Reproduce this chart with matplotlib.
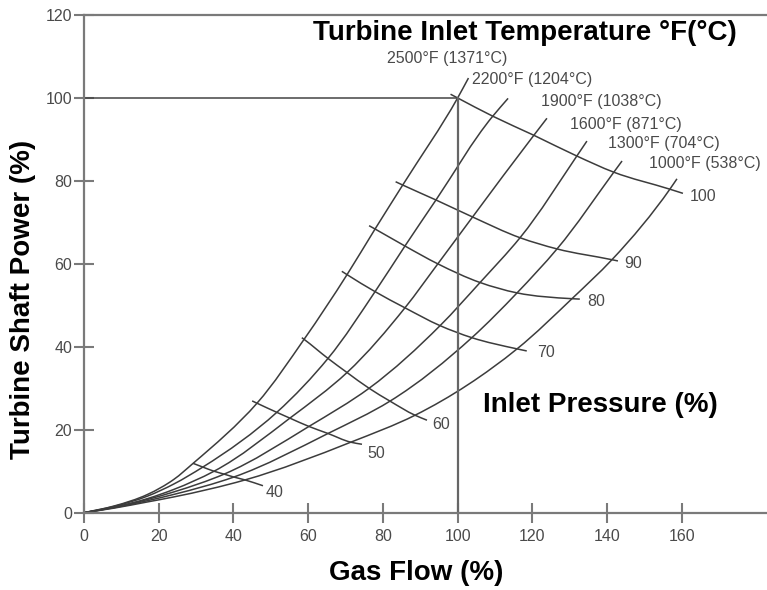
import numpy as np
import matplotlib.pyplot as plt
from matplotlib.path import Path
from matplotlib.patches import PathPatch

plt.rcParams['font.family'] = ['Liberation Sans', 'DejaVu Sans']

temps_f = [2500, 2200, 1900, 1600, 1300, 1000]
temps_c = [1371, 1204, 1038, 871, 704, 538]
pressures = [40, 50, 60, 70, 80, 90, 100]

# gas flow (%) at each crossing: rows = inlet pressure, cols = inlet temperature
flow = np.array([
    [29.2, 31.8, 34.8, 37.5, 40.1, 43.1],
    [46.3, 51.6, 55.1, 60.2, 65.3, 71.4],
    [58.9, 65.3, 70.4, 76.3, 81.9, 88.6],
    [70.4, 77.9, 85.9, 95.3, 103.8, 115.9],
    [77.9, 85.9, 94.7, 106.0, 115.9, 130.6],
    [85.3, 94.2, 104.0, 116.7, 126.6, 141.3],
    [100.0, 109.4, 120.4, 131.9, 141.8, 156.8],
])
# shaft power (%) at the same crossings
power = np.array([
    [11.9, 11.0, 10.0, 9.3, 8.6, 7.9],
    [26.4, 24.2, 22.8, 20.8, 19.1, 17.0],
    [41.8, 37.2, 33.8, 30.0, 26.9, 23.5],
    [57.4, 53.3, 49.4, 45.1, 42.2, 39.5],
    [68.4, 64.3, 60.0, 55.5, 53.0, 51.6],
    [79.0, 75.4, 71.3, 66.3, 63.6, 61.0],
    [100.0, 95.6, 91.0, 86.0, 82.1, 78.0],
])

# temperature lines below 40 % pressure, down to the origin
low_flow = [0, 8, 17, 24]
low_power = [
    [0, 1.6, 4.4, 8.0],
    [0, 1.5, 4.0, 6.9],
    [0, 1.3, 3.4, 5.6],
    [0, 1.3, 3.2, 5.0],
    [0, 1.2, 2.9, 4.4],
    [0, 1.1, 2.6, 3.8],
]
# temperature lines above 100 % pressure
top_flow = [102.9, 113.5, 123.9, 134.6, 144.0, 158.7]
top_power = [104.8, 99.9, 95.1, 89.6, 84.8, 80.5]

# pressure lines: left overhang and right end
p_start_flow = [None, 45.0, 58.3, 69.0, 76.3, 83.4, 98.1]
p_start_power = [None, 26.95, 42.2, 58.2, 69.2, 79.8, 100.9]
p_end_flow = [47.9, 74.4, 91.8, 118.5, 132.7, 142.9, 160.3]
p_end_power = [6.5, 16.5, 22.3, 39.0, 51.5, 60.7, 77.0]

line_col = '#3c3c3c'
text_col = '#4a4a4a'
axis_col = '#7a7a7a'


def smooth_path(xs, ys):
    # cubic segments through every point; the tangent at each inner point is
    # that of the parabola through it and its two neighbours
    pts = np.column_stack([xs, ys]).astype(float)
    n = len(pts)
    d = np.diff(pts, axis=0)
    h = np.hypot(d[:, 0], d[:, 1])
    u = d / h[:, None]
    tang = np.zeros_like(pts)
    tang[0], tang[-1] = u[0], u[-1]
    for i in range(1, n - 1):
        h0, h1 = h[i - 1], h[i]
        tang[i] = (h1 * u[i - 1] + h0 * u[i]) / (h0 + h1)
    tang /= np.hypot(tang[:, 0], tang[:, 1])[:, None]
    verts = [pts[0]]
    codes = [Path.MOVETO]
    for i in range(n - 1):
        verts += [pts[i] + tang[i] * h[i] / 3, pts[i + 1] - tang[i + 1] * h[i] / 3, pts[i + 1]]
        codes += [Path.CURVE4] * 3
    return Path(verts, codes)


def draw_curve(ax, xs, ys):
    ax.add_patch(PathPatch(smooth_path(xs, ys), fill=False, edgecolor=line_col,
                           lw=1.1, capstyle='butt'))


fig = plt.figure(figsize=(7.67, 5.90), dpi=100)
ax = fig.add_axes([84 / 767, 77.3 / 590, 683 / 767, 497.7 / 590])

# design point guides
x0, y0 = flow[-1, 0], power[-1, 0]
ax.plot([0, x0], [y0, y0], color='#444444', lw=1.1)
ax.plot([x0, x0], [0, y0], color='#666666', lw=1.6)

# temperature lines
temp_offsets = [(-81, 20), (-36, 19), (-6, 17), (-17, 17), (-14, 17), (-28, 15)]
for i in range(len(temps_f)):
    xs = list(low_flow) + list(flow[:, i]) + [top_flow[i]]
    ys = list(low_power[i]) + list(power[:, i]) + [top_power[i]]
    draw_curve(ax, xs, ys)
    ax.annotate(f'{temps_f[i]}°F ({temps_c[i]}°C)', (top_flow[i], top_power[i]),
                xytext=temp_offsets[i], textcoords='offset pixels',
                ha='left', va='center', fontsize=11.5, color=text_col)

# inlet pressure lines
p_offsets = [(3, -7), (5, -9), (5, -4), (10, -2), (7, -2), (6, -3), (7, -3)]
for j, p in enumerate(pressures):
    xs = list(flow[j]) + [p_end_flow[j]]
    ys = list(power[j]) + [p_end_power[j]]
    if p_start_flow[j] is not None:
        xs = [p_start_flow[j]] + xs
        ys = [p_start_power[j]] + ys
    draw_curve(ax, xs, ys)
    ax.annotate(str(p), (p_end_flow[j], p_end_power[j]),
                xytext=p_offsets[j], textcoords='offset pixels',
                ha='left', va='center', fontsize=11.5, color=text_col)

ax.set_xlim(0, 182.8)
ax.set_ylim(0, 120)
ax.set_xticks(range(0, 161, 20))
ax.set_yticks(range(0, 121, 20))
ax.tick_params(axis='both', direction='inout', length=15, width=1.5,
               color=axis_col, labelcolor=text_col, labelsize=11.5)
ax.tick_params(axis='x', pad=4)
ax.tick_params(axis='y', pad=1)

for side in ['left', 'bottom', 'top']:
    ax.spines[side].set_color(axis_col)
    ax.spines[side].set_linewidth(1.6)
ax.spines['right'].set_visible(False)

ax.set_xlabel('Gas Flow (%)', fontsize=20, fontweight='bold', va='center')
ax.xaxis.set_label_coords(0.487, -0.121)
ax.set_ylabel('Turbine Shaft Power (%)', fontsize=20, fontweight='bold', va='center')
ax.yaxis.set_label_coords(-0.089, 0.429)

ax.text(0.335, 0.964, 'Turbine Inlet Temperature °F(°C)', transform=ax.transAxes,
        ha='left', va='center', fontsize=20, fontweight='bold', color='black')
ax.text(0.584, 0.216, 'Inlet Pressure (%)', transform=ax.transAxes,
        ha='left', va='center', fontsize=20, fontweight='bold', color='black')

fig.savefig('out.png', dpi=100)
